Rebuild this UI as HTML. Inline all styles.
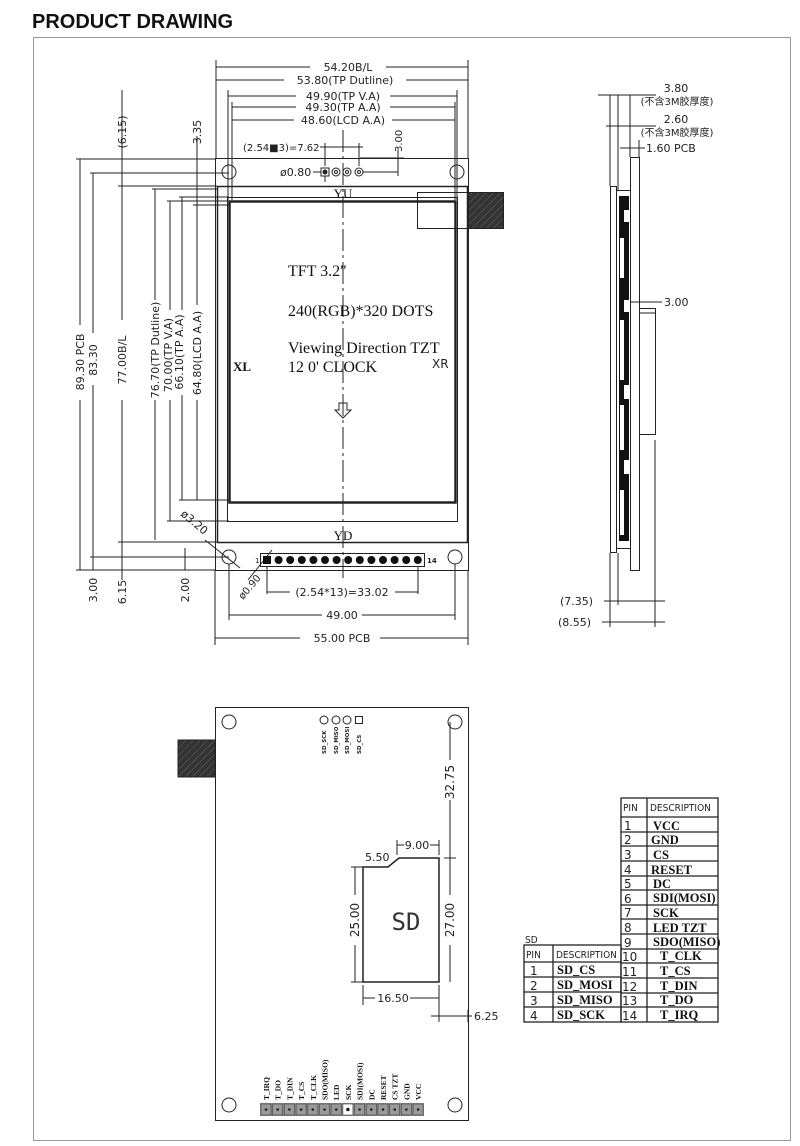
<!DOCTYPE html>
<html><head><meta charset="utf-8"><style>
html,body{margin:0;padding:0;background:#fff;}
svg{display:block;}
.d{font-family:"DejaVu Sans","Liberation Sans","Noto Sans CJK SC",sans-serif;font-size:11px;fill:#222;}
.s{font-family:"Liberation Serif",serif;fill:#111;}
.t{font-family:"Liberation Serif",serif;font-size:12.5px;fill:#111;font-weight:bold;}
.h{font-family:"DejaVu Sans Condensed","DejaVu Sans",sans-serif;font-size:10px;fill:#222;}
.p{font-family:"DejaVu Sans",sans-serif;font-size:12px;fill:#222;}
</style></head><body>
<svg width="800" height="1146" viewBox="0 0 800 1146" xmlns="http://www.w3.org/2000/svg">
<defs>
<pattern id="hat" width="5" height="5" patternUnits="userSpaceOnUse" patternTransform="rotate(45)">
<rect width="5" height="5" fill="#333"/><line x1="0" y1="0" x2="0" y2="5" stroke="#666" stroke-width="1"/></pattern>
</defs>
<text x="32" y="28" font-family="Liberation Sans,sans-serif" font-weight="bold" font-size="20" fill="#111">PRODUCT DRAWING</text>
<rect x="33.5" y="37.5" width="757" height="1103" fill="none" stroke="#999"/>

<g stroke="#222" fill="none" stroke-width="1">
<rect x="215.5" y="158.5" width="253" height="412"/>
<rect x="217.5" y="186.5" width="250" height="356" stroke-width="1.5"/>
<rect x="227.5" y="197.5" width="230" height="324"/>
<rect x="229.5" y="201.5" width="226" height="301" stroke-width="2.5"/>
<circle cx="229" cy="172" r="7"/><circle cx="457" cy="172" r="7"/>
<circle cx="229" cy="557" r="7"/><circle cx="455" cy="557" r="7"/>
<line x1="343" y1="130" x2="343" y2="578" stroke-dasharray="22,4,3,4"/>
<rect x="417.5" y="192.5" width="51" height="36"/>
<rect x="468.5" y="192.5" width="35" height="36" fill="url(#hat)"/>
<rect x="321" y="168" width="8" height="8"/><circle cx="325" cy="172" r="2" fill="#222"/>
<circle cx="336" cy="172" r="4"/><circle cx="336" cy="172" r="1.5"/>
<circle cx="347" cy="172" r="4"/><circle cx="347" cy="172" r="1.5"/>
<circle cx="359" cy="172" r="4"/><circle cx="359" cy="172" r="1.5"/>
<line x1="313" y1="172" x2="321" y2="172"/><line x1="363" y1="172" x2="398" y2="172"/>
<line x1="325" y1="143" x2="325" y2="166"/><line x1="359" y1="143" x2="359" y2="166"/>
<line x1="320" y1="147" x2="363" y2="147"/>
<line x1="398" y1="150" x2="398" y2="176"/><line x1="360" y1="158" x2="404" y2="158"/>
<line x1="325" y1="176" x2="325" y2="182"/>
<rect x="260.5" y="553.5" width="164" height="13"/>
<path d="M339 403 h8 v7 h4 l-8 8 l-8 -8 h4 z"/>
<line x1="216" y1="60" x2="216" y2="158"/><line x1="468" y1="60" x2="468" y2="158"/>
<line x1="216" y1="67" x2="310" y2="67"/><line x1="386" y1="67" x2="468" y2="67"/>
<line x1="216" y1="80" x2="284" y2="80"/><line x1="406" y1="80" x2="468" y2="80"/>
<line x1="228" y1="90" x2="228" y2="200"/><line x1="457" y1="90" x2="457" y2="200"/>
<line x1="232" y1="102" x2="232" y2="200"/><line x1="455" y1="102" x2="455" y2="200"/>
<line x1="228" y1="96" x2="296" y2="96"/><line x1="390" y1="96" x2="457" y2="96"/>
<line x1="232" y1="107" x2="296" y2="107"/><line x1="390" y1="107" x2="455" y2="107"/>
<line x1="232" y1="120" x2="294" y2="120"/><line x1="392" y1="120" x2="455" y2="120"/>
<line x1="80" y1="159" x2="80" y2="325"/><line x1="80" y1="400" x2="80" y2="570"/>
<line x1="76" y1="159" x2="215" y2="159"/><line x1="76" y1="570" x2="215" y2="570"/>
<line x1="93" y1="173" x2="93" y2="333"/><line x1="93" y1="385" x2="93" y2="570"/>
<line x1="90" y1="173" x2="229" y2="173"/><line x1="90" y1="557" x2="229" y2="557"/>
<line x1="122" y1="90" x2="122" y2="320"/><line x1="122" y1="400" x2="122" y2="580"/>
<line x1="118" y1="186" x2="217" y2="186"/><line x1="118" y1="542" x2="217" y2="542"/>
<line x1="155" y1="189" x2="155" y2="300"/><line x1="155" y1="400" x2="155" y2="540"/>
<line x1="152" y1="189" x2="217" y2="189"/>
<line x1="170" y1="201" x2="170" y2="310"/><line x1="170" y1="400" x2="170" y2="521"/>
<line x1="167" y1="201" x2="229" y2="201"/><line x1="167" y1="521" x2="229" y2="521"/>
<line x1="182" y1="197" x2="182" y2="310"/><line x1="182" y1="395" x2="182" y2="500"/>
<line x1="179" y1="197" x2="229" y2="197"/><line x1="179" y1="500" x2="229" y2="500"/>
<line x1="197" y1="136" x2="197" y2="305"/><line x1="197" y1="400" x2="197" y2="500"/>
<line x1="193" y1="205" x2="229" y2="205"/>
<line x1="185" y1="548" x2="185" y2="570"/>
<line x1="267" y1="566" x2="267" y2="594"/><line x1="418" y1="566" x2="418" y2="594"/>
<line x1="267" y1="592" x2="290" y2="592"/><line x1="395" y1="592" x2="418" y2="592"/>
<line x1="229" y1="564" x2="229" y2="620"/><line x1="455" y1="564" x2="455" y2="620"/>
<line x1="229" y1="615" x2="322" y2="615"/><line x1="362" y1="615" x2="455" y2="615"/>
<line x1="215" y1="570" x2="215" y2="645"/><line x1="468" y1="570" x2="468" y2="645"/>
<line x1="215" y1="638" x2="300" y2="638"/><line x1="380" y1="638" x2="468" y2="638"/>
<line x1="205" y1="540" x2="240" y2="568"/>
<line x1="248" y1="580" x2="272" y2="550"/>

<rect x="610.5" y="186.5" width="6" height="366"/>
<rect x="616.5" y="190.5" width="14" height="358"/>
<rect x="619" y="196" width="10" height="345" fill="#111" stroke="none"/>
<g fill="#fff" stroke="none">
<rect x="624" y="210" width="5" height="12"/><rect x="620" y="238" width="4" height="40"/><rect x="624" y="300" width="5" height="12"/>
<rect x="620" y="320" width="4" height="60"/><rect x="624" y="385" width="5" height="14"/><rect x="620" y="405" width="4" height="45"/>
<rect x="624" y="460" width="5" height="14"/><rect x="620" y="490" width="4" height="45"/>
</g>
<rect x="630.5" y="157.5" width="9" height="413"/>
<rect x="639.5" y="308.5" width="16" height="126"/>
<line x1="639" y1="313" x2="655" y2="313"/>
<line x1="655" y1="440" x2="655" y2="627"/>
<line x1="610" y1="95" x2="610" y2="186"/><line x1="618" y1="95" x2="618" y2="190"/>
<line x1="630" y1="95" x2="630" y2="157"/><line x1="639" y1="140" x2="639" y2="157"/>
<line x1="598" y1="95" x2="656" y2="95"/><line x1="606" y1="126" x2="656" y2="126"/>
<line x1="620" y1="148" x2="645" y2="148"/>
<line x1="630" y1="302" x2="662" y2="302"/>
<line x1="610" y1="553" x2="610" y2="627"/><line x1="618" y1="553" x2="618" y2="605"/>
<line x1="604" y1="601" x2="665" y2="601"/><line x1="602" y1="622" x2="665" y2="622"/>

<rect x="215.5" y="707.5" width="253" height="413"/>
<rect x="178" y="740" width="37" height="37" fill="url(#hat)"/>
<circle cx="229" cy="722" r="7"/><circle cx="455" cy="722" r="7"/>
<circle cx="229" cy="1105" r="7"/><circle cx="455" cy="1105" r="7"/>
<circle cx="324" cy="720" r="4"/><circle cx="336" cy="720" r="4"/><circle cx="347" cy="720" r="4"/>
<rect x="355.5" y="716.5" width="7" height="7"/>
<path d="M363 982 V867 H388 L399 858 H439 V982 Z" stroke-width="1.5"/>
<line x1="450" y1="722" x2="450" y2="760"/><line x1="450" y1="800" x2="450" y2="895"/><line x1="450" y1="945" x2="450" y2="982"/>
<line x1="444" y1="858" x2="456" y2="858"/>
<line x1="355" y1="867" x2="355" y2="895"/><line x1="355" y1="945" x2="355" y2="982"/>
<line x1="351" y1="867" x2="363" y2="867"/><line x1="351" y1="982" x2="363" y2="982"/>
<line x1="397" y1="840" x2="397" y2="855"/><line x1="439" y1="840" x2="439" y2="855"/>
<line x1="397" y1="845" x2="404" y2="845"/><line x1="430" y1="845" x2="439" y2="845"/>
<line x1="363" y1="985" x2="363" y2="1005"/><line x1="439" y1="985" x2="439" y2="1022"/>
<line x1="363" y1="998" x2="375" y2="998"/><line x1="410" y1="998" x2="439" y2="998"/>
<line x1="431" y1="1016" x2="472" y2="1016"/><line x1="468" y1="1010" x2="468" y2="1022"/>
</g>
<g>
<rect x="260" y="1103" width="164" height="13" fill="#888"/>
<g stroke="#444" stroke-width="0.6">
<rect x="261" y="1104" width="10" height="11" fill="#999"/><rect x="272.7" y="1104" width="10" height="11" fill="#999"/><rect x="284.4" y="1104" width="10" height="11" fill="#999"/><rect x="296.1" y="1104" width="10" height="11" fill="#999"/><rect x="307.8" y="1104" width="10" height="11" fill="#999"/><rect x="319.5" y="1104" width="10" height="11" fill="#999"/><rect x="331.2" y="1104" width="10" height="11" fill="#999"/><rect x="342.9" y="1104" width="10" height="11" fill="#fff"/><rect x="354.6" y="1104" width="10" height="11" fill="#999"/><rect x="366.3" y="1104" width="10" height="11" fill="#999"/><rect x="378" y="1104" width="10" height="11" fill="#999"/><rect x="389.7" y="1104" width="10" height="11" fill="#999"/><rect x="401.4" y="1104" width="10" height="11" fill="#999"/><rect x="413.1" y="1104" width="10" height="11" fill="#999"/>
</g>
<g fill="#222">
<circle cx="266" cy="1109.5" r="1.3"/><circle cx="277.7" cy="1109.5" r="1.3"/><circle cx="289.4" cy="1109.5" r="1.3"/><circle cx="301.1" cy="1109.5" r="1.3"/><circle cx="312.8" cy="1109.5" r="1.3"/><circle cx="324.5" cy="1109.5" r="1.3"/><circle cx="336.2" cy="1109.5" r="1.3"/><circle cx="347.9" cy="1109.5" r="1.8"/><circle cx="359.6" cy="1109.5" r="1.3"/><circle cx="371.3" cy="1109.5" r="1.3"/><circle cx="383" cy="1109.5" r="1.3"/><circle cx="394.7" cy="1109.5" r="1.3"/><circle cx="406.4" cy="1109.5" r="1.3"/><circle cx="418.1" cy="1109.5" r="1.3"/>
</g>
</g>
<g fill="#111">
<rect x="263" y="556" width="8" height="8"/>
<circle cx="278.6" cy="560" r="4"/><circle cx="290.2" cy="560" r="4"/><circle cx="301.8" cy="560" r="4"/><circle cx="313.4" cy="560" r="4"/><circle cx="325" cy="560" r="4"/><circle cx="336.6" cy="560" r="4"/><circle cx="348.2" cy="560" r="4"/><circle cx="359.8" cy="560" r="4"/><circle cx="371.4" cy="560" r="4"/><circle cx="383" cy="560" r="4"/><circle cx="394.6" cy="560" r="4"/><circle cx="406.2" cy="560" r="4"/><circle cx="417.8" cy="560" r="4"/>
</g>
<text x="255" y="563" class="d" style="font-size:7px">1</text><text x="427" y="563" class="d" style="font-size:7px;font-weight:bold">14</text>

<text x="343" y="198" text-anchor="middle" class="s" font-size="13">YU</text>
<text x="343" y="540" text-anchor="middle" class="s" font-size="13">YD</text>
<text x="288" y="276" class="s" font-size="16">TFT 3.2"</text>
<text x="288" y="316" class="s" font-size="16">240(RGB)*320 DOTS</text>
<text x="288" y="353" class="s" font-size="16">Viewing Direction  TZT</text>
<text x="288" y="372" class="s" font-size="16">12 0' CLOCK</text>
<text x="233" y="371" class="s" font-size="13" font-weight="bold">XL</text>
<text x="432" y="368" class="d" style="font-size:12px">XR</text>
<text x="348" y="71" text-anchor="middle" class="d">54.20B/L</text>
<text x="345" y="84" text-anchor="middle" class="d">53.80(TP Dutline)</text>
<text x="343" y="100" text-anchor="middle" class="d">49.90(TP V.A)</text>
<text x="343" y="111" text-anchor="middle" class="d">49.30(TP A.A)</text>
<text x="343" y="124" text-anchor="middle" class="d">48.60(LCD A.A)</text>
<text x="243" y="151" class="d" style="font-size:10px">(2.54■3)=7.62</text>
<text x="280" y="176" class="d">ø0.80</text>
<text transform="translate(402,152) rotate(-90)" class="d" style="font-size:10px">3.00</text>
<text transform="translate(84,362) rotate(-90)" text-anchor="middle" class="d">89.30 PCB</text>
<text transform="translate(97,360) rotate(-90)" text-anchor="middle" class="d">83.30</text>
<text transform="translate(126,360) rotate(-90)" text-anchor="middle" class="d">77.00B/L</text>
<text transform="translate(159,350) rotate(-90)" text-anchor="middle" class="d">76.70(TP Dutline)</text>
<text transform="translate(172,355) rotate(-90)" text-anchor="middle" class="d">70.00(TP V.A)</text>
<text transform="translate(183,352) rotate(-90)" text-anchor="middle" class="d">66.10(TP A.A)</text>
<text transform="translate(201,353) rotate(-90)" text-anchor="middle" class="d">64.80(LCD A.A)</text>
<text transform="translate(126,132) rotate(-90)" text-anchor="middle" class="d">(6.15)</text>
<text transform="translate(201,132) rotate(-90)" text-anchor="middle" class="d">3.35</text>
<text transform="translate(97,590) rotate(-90)" text-anchor="middle" class="d">3.00</text>
<text transform="translate(126,592) rotate(-90)" text-anchor="middle" class="d">6.15</text>
<text transform="translate(189,590) rotate(-90)" text-anchor="middle" class="d">2.00</text>
<text transform="translate(180,515) rotate(40)" class="d">ø3.20</text>
<text transform="translate(243,600) rotate(-50)" class="d" style="font-size:10px">ø0.90</text>
<text x="342" y="596" text-anchor="middle" class="d">(2.54*13)=33.02</text>
<text x="342" y="619" text-anchor="middle" class="d">49.00</text>
<text x="342" y="642" text-anchor="middle" class="d">55.00 PCB</text>
<text x="676" y="92" text-anchor="middle" class="d">3.80</text>
<text x="677" y="105" text-anchor="middle" class="d" style="font-size:10px">(不含3M胶厚度)</text>
<text x="676" y="123" text-anchor="middle" class="d">2.60</text>
<text x="677" y="136" text-anchor="middle" class="d" style="font-size:10px">(不含3M胶厚度)</text>
<text x="646" y="152" class="d">1.60 PCB</text>
<text x="664" y="306" class="d">3.00</text>
<text x="560" y="605" class="d">(7.35)</text>
<text x="558" y="626" class="d">(8.55)</text>
<g font-family="DejaVu Sans,sans-serif" font-size="5.5" font-weight="bold" fill="#222">
<text transform="translate(326,754) rotate(-90)">SD_SCK</text>
<text transform="translate(338,754) rotate(-90)">SD_MISO</text>
<text transform="translate(349,754) rotate(-90)">SD_MOSI</text>
<text transform="translate(361,754) rotate(-90)">SD_CS</text>
</g>
<text transform="translate(454,782) rotate(-90)" text-anchor="middle" class="d" style="font-size:12px">32.75</text>
<text transform="translate(454,920) rotate(-90)" text-anchor="middle" class="d" style="font-size:12px">27.00</text>
<text transform="translate(359,920) rotate(-90)" text-anchor="middle" class="d" style="font-size:12px">25.00</text>
<text x="406" y="930" text-anchor="middle" font-family="DejaVu Sans Mono,monospace" font-size="24" fill="#333">SD</text>
<text x="365" y="861" class="d">5.50</text>
<text x="417" y="849" text-anchor="middle" class="d">9.00</text>
<text x="393" y="1002" text-anchor="middle" class="d">16.50</text>
<text x="474" y="1020" class="d">6.25</text>
<g class="s" font-size="7.5" font-weight="bold">
<text transform="translate(269,1100) rotate(-90)">T_IRQ</text>
<text transform="translate(280.7,1100) rotate(-90)">T_DO</text>
<text transform="translate(292.4,1100) rotate(-90)">T_DIN</text>
<text transform="translate(304.1,1100) rotate(-90)">T_CS</text>
<text transform="translate(315.8,1100) rotate(-90)">T_CLK</text>
<text transform="translate(327.5,1100) rotate(-90)">SDO(MISO)</text>
<text transform="translate(339.2,1100) rotate(-90)">LED</text>
<text transform="translate(350.9,1100) rotate(-90)">SCK</text>
<text transform="translate(362.6,1100) rotate(-90)">SDI(MOSI)</text>
<text transform="translate(374.3,1100) rotate(-90)">DC</text>
<text transform="translate(386,1100) rotate(-90)">RESET</text>
<text transform="translate(397.7,1100) rotate(-90)">CS TZT</text>
<text transform="translate(409.4,1100) rotate(-90)">GND</text>
<text transform="translate(421.1,1100) rotate(-90)">VCC</text>
</g>

<g stroke="#222" fill="none" stroke-width="1.3">
<rect x="621" y="798" width="97" height="224"/>
<line x1="647" y1="798" x2="647" y2="1022"/>
<line x1="621" y1="817" x2="718" y2="817"/><line x1="621" y1="832" x2="718" y2="832"/><line x1="621" y1="846" x2="718" y2="846"/><line x1="621" y1="861" x2="718" y2="861"/><line x1="621" y1="876" x2="718" y2="876"/><line x1="621" y1="890" x2="718" y2="890"/><line x1="621" y1="905" x2="718" y2="905"/><line x1="621" y1="919" x2="718" y2="919"/><line x1="621" y1="934" x2="718" y2="934"/><line x1="621" y1="949" x2="718" y2="949"/><line x1="621" y1="963" x2="718" y2="963"/><line x1="621" y1="978" x2="718" y2="978"/><line x1="621" y1="993" x2="718" y2="993"/><line x1="621" y1="1007" x2="718" y2="1007"/>
<rect x="524" y="945" width="97" height="77"/>
<line x1="553" y1="945" x2="553" y2="1022"/>
<line x1="524" y1="962" x2="621" y2="962"/><line x1="524" y1="977" x2="621" y2="977"/><line x1="524" y1="992" x2="621" y2="992"/><line x1="524" y1="1007" x2="621" y2="1007"/>
</g>
<text x="623" y="811" class="h">PIN</text><text x="650" y="811" class="h">DESCRIPTION</text>
<g class="p">
<text x="624" y="830">1</text><text x="624" y="844">2</text><text x="624" y="859">3</text><text x="624" y="874">4</text><text x="624" y="888">5</text><text x="624" y="903">6</text><text x="624" y="917">7</text><text x="624" y="932">8</text><text x="624" y="947">9</text><text x="622" y="961">10</text><text x="622" y="976">11</text><text x="622" y="991">12</text><text x="622" y="1005">13</text><text x="622" y="1020">14</text>
</g>
<g class="t">
<text x="653" y="830">VCC</text><text x="651" y="844">GND</text><text x="653" y="859">CS</text><text x="651" y="874">RESET</text><text x="653" y="888">DC</text><text x="653" y="902">SDI(MOSI)</text><text x="653" y="917">SCK</text><text x="653" y="932">LED TZT</text><text x="653" y="946">SDO(MISO)</text>
<text x="660" y="960">T_CLK</text><text x="660" y="975">T_CS</text><text x="660" y="990">T_DIN</text><text x="660" y="1004">T_DO</text><text x="660" y="1019">T_IRQ</text>
</g>
<text x="525" y="943" class="h">SD</text>
<text x="526" y="958" class="h">PIN</text><text x="556" y="958" class="h">DESCRIPTION</text>
<g class="p"><text x="530" y="975">1</text><text x="530" y="990">2</text><text x="530" y="1005">3</text><text x="530" y="1020">4</text></g>
<g class="t"><text x="557" y="974">SD_CS</text><text x="557" y="989">SD_MOSI</text><text x="557" y="1004">SD_MISO</text><text x="557" y="1019">SD_SCK</text></g>
</svg>
</body></html>
